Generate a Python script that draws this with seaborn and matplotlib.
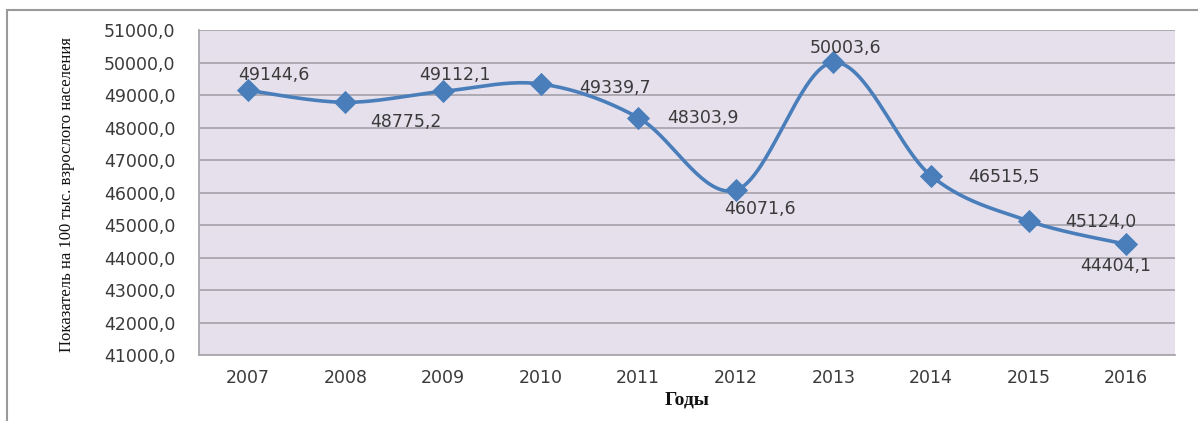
import numpy as np
import matplotlib
matplotlib.use("Agg")
import matplotlib.pyplot as plt
from matplotlib.lines import Line2D
import seaborn as sns

years = ["2007", "2008", "2009", "2010", "2011", "2012", "2013", "2014", "2015", "2016"]
values = [49144.6, 48775.2, 49112.1, 49339.7, 48303.9, 46071.6, 50003.6, 46515.5, 45124.0, 44404.1]
y_ticks = [41000, 42000, 43000, 44000, 45000, 46000, 47000, 48000, 49000, 50000, 51000]
y_label = "Показатель на 100 тыс. взрослого населения"
x_label = "Годы"

# label placement for each point, in pixels relative to the marker
label_offsets = [(26, 15), (60, -20), (12, 16), (74, -4), (65, 0),
                 (24, -19), (12, 14), (73, -1), (72, -1), (-11, -22)]

sns.set_style("white")
plt.rcParams["font.family"] = ["DejaVu Sans"]

line_color = "#4A7EBB"
grid_color = "#A9A6AE"
plot_bg = "#E5E0EC"
text_color = "#3A3A3A"

fig = plt.figure(figsize=(11.98, 4.21), dpi=100)
ax = fig.add_axes([199 / 1198, 1 - 355 / 421, (1175 - 199) / 1198, (355 - 30) / 421])
ax.set_facecolor(plot_bg)

x = np.arange(len(values), dtype=float)
y = np.array(values)

# smoothed connecting curve (cubic Bezier segments with Catmull-Rom tangents)
pts = np.column_stack([x, y])
ext = np.vstack([pts[0], pts, pts[-1]])
t = np.linspace(0, 1, 40)[:, None]
curve = []
for i in range(len(pts) - 1):
    p0, p1, p2, p3 = ext[i], ext[i + 1], ext[i + 2], ext[i + 3]
    c1 = p1 + (p2 - p0) / 6.0
    c2 = p2 - (p3 - p1) / 6.0
    seg = ((1 - t) ** 3) * p1 + 3 * ((1 - t) ** 2) * t * c1 + 3 * (1 - t) * t ** 2 * c2 + t ** 3 * p2
    curve.append(seg if i == 0 else seg[1:])
curve = np.vstack(curve)

sns.lineplot(x=curve[:, 0], y=curve[:, 1], sort=False, estimator=None,
             color=line_color, linewidth=2.6, ax=ax, zorder=3)
sns.scatterplot(x=x, y=y, marker="D", s=140, color=line_color,
                edgecolor=line_color, linewidth=0, ax=ax, zorder=4)

for xi, yi, (dx, dy) in zip(x, y, label_offsets):
    ax.annotate(f"{yi:.1f}".replace(".", ","), (xi, yi), xytext=(dx, dy),
                textcoords="offset pixels", ha="center", va="center",
                fontsize=12.5, color=text_color, zorder=5)

ax.set_xlim(-0.5, len(values) - 0.5)
ax.set_ylim(y_ticks[0], y_ticks[-1])
ax.set_yticks(y_ticks)
ax.set_yticklabels([f"{v:.1f}".replace(".", ",") for v in y_ticks])
ax.set_xticks(x)
ax.set_xticklabels(years)
ax.set_xticks(np.arange(-0.5, len(values), 1.0), minor=True)

ax.grid(axis="y", color=grid_color, linewidth=1.3)
ax.set_axisbelow(True)

ax.tick_params(axis="y", which="major", length=9, width=1, color=grid_color,
               labelsize=12.5, labelcolor=text_color, pad=8)
ax.tick_params(axis="x", which="major", length=0, labelsize=12.5,
               labelcolor=text_color, pad=10)
ax.tick_params(axis="x", which="minor", length=5, width=1, color=grid_color)

for side in ["top", "right"]:
    ax.spines[side].set_visible(False)
for side in ["left", "bottom"]:
    ax.spines[side].set_color(grid_color)
    ax.spines[side].set_linewidth(1.3)

ax.set_xlabel(x_label, fontfamily="Liberation Serif", fontweight="bold",
              fontsize=14, color="#111111", labelpad=3)
ax.set_ylabel("")
fig.text(67 / 1198, 1 - 195 / 421, y_label, rotation=90, ha="center", va="center",
         fontfamily="Liberation Serif", fontsize=12, color="#111111")

# outer chart frame
fig.add_artist(Line2D([7 / 1198, 7 / 1198], [0, 1 - 10 / 421],
                      transform=fig.transFigure, color="#9A9A9A", linewidth=1.5))
fig.add_artist(Line2D([7 / 1198, 1], [1 - 10 / 421, 1 - 10 / 421],
                      transform=fig.transFigure, color="#9A9A9A", linewidth=1.5))

fig.savefig("out.png", dpi=100, facecolor="white")
